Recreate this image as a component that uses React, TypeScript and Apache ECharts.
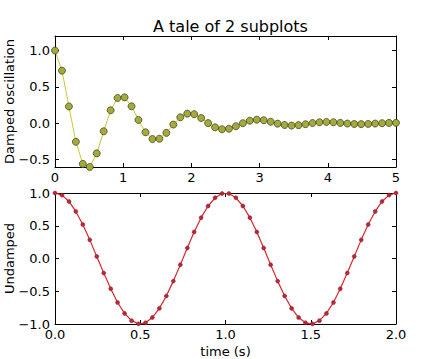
import React, { useEffect, useRef } from "react";
import * as echarts from "echarts";

const titleText = "A tale of 2 subplots";
const topYLabel = "Damped oscillation";
const bottomYLabel = "Undamped";
const bottomXLabel = "time (s)";

const x1: number[] = [
  0, 0.102, 0.204, 0.306, 0.408, 0.51, 0.612, 0.714, 0.816, 0.918,
  1.02, 1.122, 1.224, 1.327, 1.429, 1.531, 1.633, 1.735, 1.837, 1.939,
  2.041, 2.143, 2.245, 2.347, 2.449, 2.551, 2.653, 2.755, 2.857, 2.959,
  3.061, 3.163, 3.265, 3.367, 3.469, 3.571, 3.673, 3.776, 3.878, 3.98,
  4.082, 4.184, 4.286, 4.388, 4.49, 4.592, 4.694, 4.796, 4.898, 5.0,
];
const damped: number[] = [
  1.0, 0.724, 0.232, -0.254, -0.557, -0.599, -0.413, -0.109, 0.179, 0.348,
  0.357, 0.234, 0.047, -0.123, -0.216, -0.212, -0.131, -0.017, 0.083, 0.133,
  0.126, 0.073, 0.003, -0.055, -0.082, -0.074, -0.04, 0.002, 0.036, 0.05,
  0.043, 0.022, -0.004, -0.023, -0.031, -0.025, -0.012, 0.004, 0.015, 0.019,
  0.015, 0.006, -0.003, -0.009, -0.011, -0.008, -0.003, 0.002, 0.006, 0.007,
];
const x2: number[] = [
  0, 0.041, 0.082, 0.122, 0.163, 0.204, 0.245, 0.286, 0.327, 0.367,
  0.408, 0.449, 0.49, 0.531, 0.571, 0.612, 0.653, 0.694, 0.735, 0.776,
  0.816, 0.857, 0.898, 0.939, 0.98, 1.02, 1.061, 1.102, 1.143, 1.184,
  1.224, 1.265, 1.306, 1.347, 1.388, 1.429, 1.469, 1.51, 1.551, 1.592,
  1.633, 1.673, 1.714, 1.755, 1.796, 1.837, 1.878, 1.918, 1.959, 2.0,
];
const undamped: number[] = [
  1, 0.9673, 0.8713, 0.7183, 0.5184, 0.2845, 0.0321, -0.2225, -0.4625, -0.6723,
  -0.8381, -0.9491, -0.9979, -0.9816, -0.901, -0.7615, -0.5721, -0.3454, -0.096, 0.1596,
  0.4048, 0.6235, 0.8014, 0.9269, 0.9918, 0.9918, 0.9269, 0.8014, 0.6235, 0.4048,
  0.1596, -0.096, -0.3454, -0.5721, -0.7615, -0.901, -0.9816, -0.9979, -0.9491, -0.8381,
  -0.6723, -0.4625, -0.2225, 0.0321, 0.2845, 0.5184, 0.7183, 0.8713, 0.9673, 1,
];
const topYTicks: number[] = [-0.5, 0, 0.5, 1.0];

const FONT = "DejaVu Sans";

function fmt1(v: number): string {
  const s = Math.abs(v).toFixed(1);
  return v < -1e-9 ? "\u2212" + s : s;
}

const tickStyle = { show: true, inside: true, length: 4, lineStyle: { color: "#000", width: 1 } };
const lineStyle = { show: true, onZero: false, lineStyle: { color: "#000", width: 1 } };
const labelStyle = { color: "#000", fontFamily: FONT, fontSize: 13 };

function vLabel(text: string, x: number, y: number) {
  return {
    type: "text",
    x,
    y,
    rotation: Math.PI / 2,
    style: {
      text,
      fill: "#000",
      font: `13px "${FONT}"`,
      fontFamily: FONT,
      fontSize: 13,
      align: "center",
      verticalAlign: "middle",
      textAlign: "center",
      textVerticalAlign: "middle",
    },
  };
}

export default function App() {
  const ref = useRef<HTMLDivElement>(null);
  useEffect(() => {
    if (!ref.current) return;
    const chart = echarts.init(ref.current, undefined, { renderer: "svg" });
    const option: any = {
      animation: false,
      backgroundColor: "#fff",
      title: {
        text: titleText,
        left: 225.5,
        textAlign: "center",
        top: 13,
        textStyle: { fontFamily: FONT, fontSize: 16, fontWeight: "normal", color: "#000" },
      },
      graphic: [vLabel(topYLabel, 9, 101.5), vLabel(bottomYLabel, 9, 258.5)],
      grid: [
        { left: 55, top: 36, width: 341, height: 131, containLabel: false, outerBoundsMode: "none" },
        { left: 55, top: 193, width: 341, height: 131, containLabel: false, outerBoundsMode: "none" },
      ],
      xAxis: [
        {
          type: "value", gridIndex: 0, position: "bottom", min: 0, max: 5, interval: 1,
          axisLine: lineStyle, axisTick: tickStyle, splitLine: { show: false },
          axisLabel: { ...labelStyle, margin: 4, formatter: (v: number) => String(Math.round(v)) },
        },
        {
          type: "value", gridIndex: 0, position: "top", min: 0, max: 5, interval: 1,
          axisLine: lineStyle, axisTick: tickStyle, splitLine: { show: false },
          axisLabel: { show: false },
        },
        {
          type: "value", gridIndex: 1, position: "bottom", min: 0, max: 2, interval: 0.5,
          axisLine: lineStyle, axisTick: tickStyle, splitLine: { show: false },
          axisLabel: { ...labelStyle, margin: 4, formatter: fmt1 },
          name: bottomXLabel, nameLocation: "middle", nameGap: 21,
          nameTextStyle: { ...labelStyle },
        },
        {
          type: "value", gridIndex: 1, position: "top", min: 0, max: 2, interval: 0.5,
          axisLine: lineStyle, axisTick: tickStyle, splitLine: { show: false },
          axisLabel: { show: false },
        },
      ],
      yAxis: [
        {
          type: "value", gridIndex: 0, position: "left", min: -0.6, max: 1.2,
          axisLine: lineStyle,
          axisTick: { ...tickStyle, customValues: topYTicks },
          splitLine: { show: false },
          axisLabel: { ...labelStyle, margin: 5, customValues: topYTicks, formatter: fmt1 },
        },
        {
          type: "value", gridIndex: 0, position: "right", min: -0.6, max: 1.2,
          axisLine: lineStyle,
          axisTick: { ...tickStyle, customValues: topYTicks },
          splitLine: { show: false },
          axisLabel: { show: false },
        },
        {
          type: "value", gridIndex: 1, position: "left", min: -1, max: 1, interval: 0.5,
          axisLine: lineStyle, axisTick: tickStyle, splitLine: { show: false },
          axisLabel: { ...labelStyle, margin: 5, formatter: fmt1 },
        },
        {
          type: "value", gridIndex: 1, position: "right", min: -1, max: 1, interval: 0.5,
          axisLine: lineStyle, axisTick: tickStyle, splitLine: { show: false },
          axisLabel: { show: false },
        },
      ],
      series: [
        {
          type: "line",
          xAxisIndex: 0,
          yAxisIndex: 0,
          data: x1.map((x, i) => [x, damped[i]]),
          symbol: "circle",
          symbolSize: 7,
          showAllSymbol: true,
          clip: true,
          lineStyle: { color: "#c8c832", width: 1 },
          itemStyle: { color: "#a3ab3e", borderColor: "#3a3a10", borderWidth: 0.7 },
        },
        {
          type: "line",
          xAxisIndex: 2,
          yAxisIndex: 2,
          data: x2.map((x, i) => [x, undamped[i]]),
          symbol: "circle",
          symbolSize: 4,
          showAllSymbol: true,
          clip: true,
          lineStyle: { color: "#d42a2a", width: 1.2 },
          itemStyle: { color: "#b8283a", borderColor: "#8a1a2a", borderWidth: 0.5 },
        },
      ],
    };
    chart.setOption(option);
    return () => chart.dispose();
  }, []);
  return (
    <div
      ref={ref}
      style={{ position: "fixed", left: 0, top: 0, width: 440, height: 359, background: "#fff" }}
    />
  );
}
